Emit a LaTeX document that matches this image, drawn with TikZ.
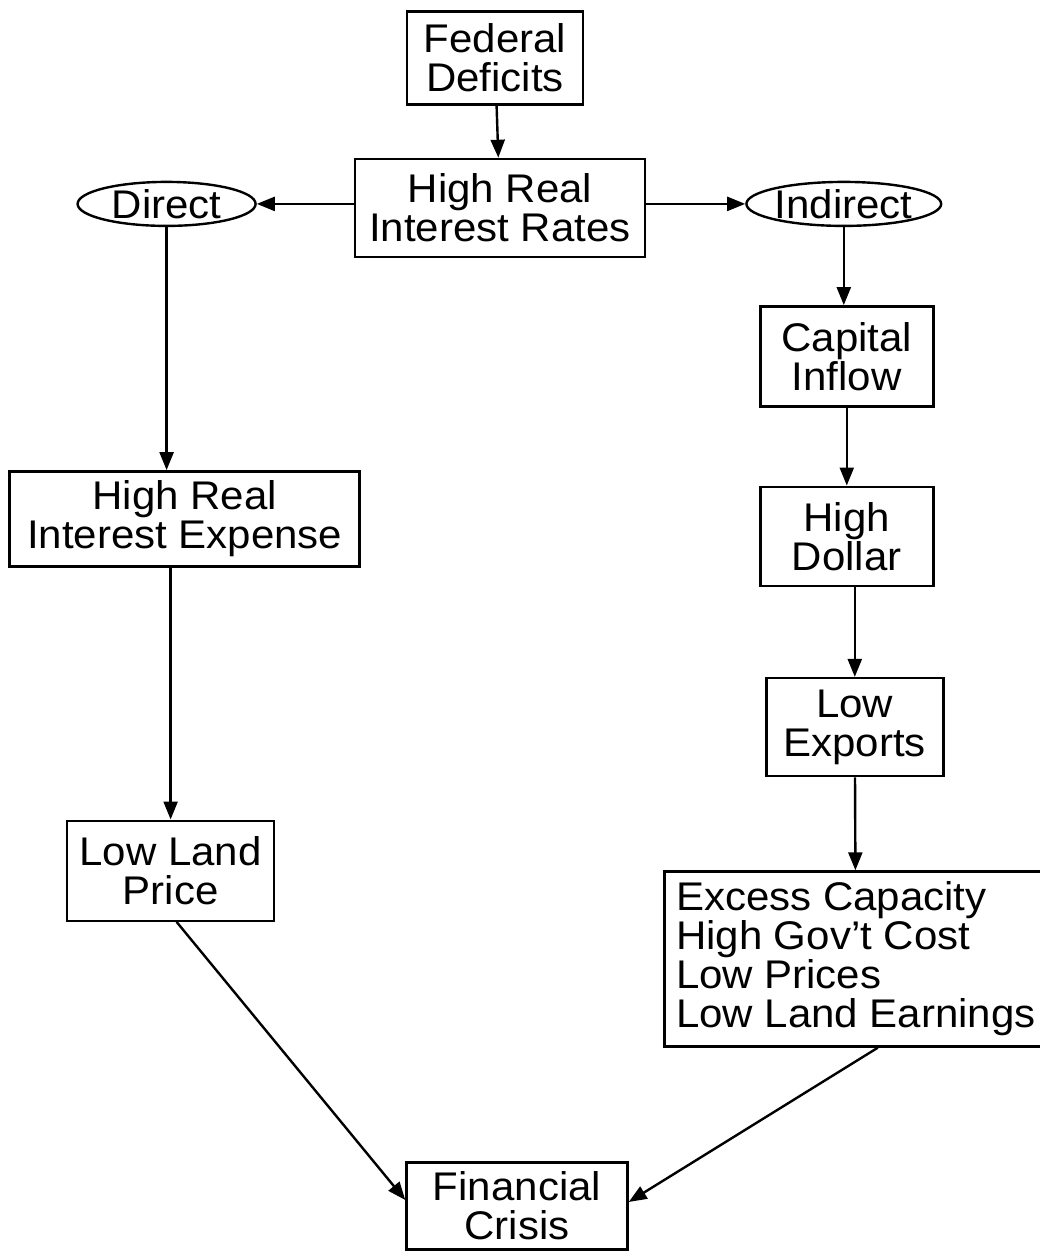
\documentclass[tikz,border=0pt]{standalone}
\usepackage{fontspec}
\setmainfont{Liberation Sans}[FakeStretch=1.05]
\usetikzlibrary{arrows.meta, positioning, shapes.geometric}

\tikzset{
  box/.style={draw, rectangle, align=center, inner sep=4pt,
    font=\fontsize{40}{39}\selectfont},
  way/.style={draw, ellipse, inner sep=0pt, minimum width=178pt,
    minimum height=44pt, font=\fontsize{40}{39}\selectfont}
}

\begin{document}
\begin{tikzpicture}[x=1pt, y=-1pt, ->, >={Triangle[length=18pt,width=14pt]}, line width=2.4pt]
    \useasboundingbox (0,0) rectangle (1040,1252);

    \node[box, minimum width=176pt, minimum height=93pt] (FD) at (495,58) {Federal\\Deficits};
    \node[box, minimum width=290pt, minimum height=98pt] (HRIR) [below=52pt of FD, xshift=5pt] {High Real\\Interest Rates};
    \node[way] (Direct) [left=97pt of HRIR, yshift=4pt] {Direct};
    \node[way, minimum width=182pt] (Indirect) [right=99pt of HRIR, yshift=4pt] {Indirect};

    % direct branch
    \node[box, minimum width=350pt, minimum height=95pt] (HRIE) [below=243pt of Direct, xshift=18pt] {High Real\\Interest Expense};
    \node[box, minimum width=207pt, minimum height=100pt] (LLP) [below=252pt of HRIE, xshift=-14pt] {Low Land\\Price};

    % indirect branch
    \node[box, minimum width=173pt, minimum height=100pt] (CI) [below=78pt of Indirect, xshift=3pt] {Capital\\Inflow};
    \node[box, minimum width=173pt, minimum height=99pt] (HD) [below=78pt of CI] {High\\Dollar};
    \node[box, minimum width=177pt, minimum height=98pt] (LE) [below=90pt of HD, xshift=8pt] {Low\\Exports};
    \node[box, align=left, minimum width=383pt, minimum height=175pt] (EC) [below=93pt of LE, xshift=1pt]
        {Excess Capacity\\High Gov't Cost\\Low Prices\\Low Land Earnings};

    \node[box, minimum width=221pt, minimum height=87pt] (FC) at (517,1206) {Financial\\Crisis};

    \path
    (FD) edge (HRIR)
    (HRIR.west |- Direct) edge (Direct)
    (HRIR.east |- Indirect) edge (Indirect)
    (Direct) edge (Direct |- HRIE.north)
    (LLP.north |- HRIE.south) edge (LLP.north)
    (Indirect) edge (Indirect |- CI.north)
    (CI) edge (HD)
    (LE.north |- HD.south) edge (LE.north)
    (LE) edge (EC)
    ([xshift=6pt]LLP.south) edge ([yshift=6pt]FC.west)
    ([xshift=22pt]EC.south) edge ([yshift=4pt]FC.east);
\end{tikzpicture}
\end{document}
